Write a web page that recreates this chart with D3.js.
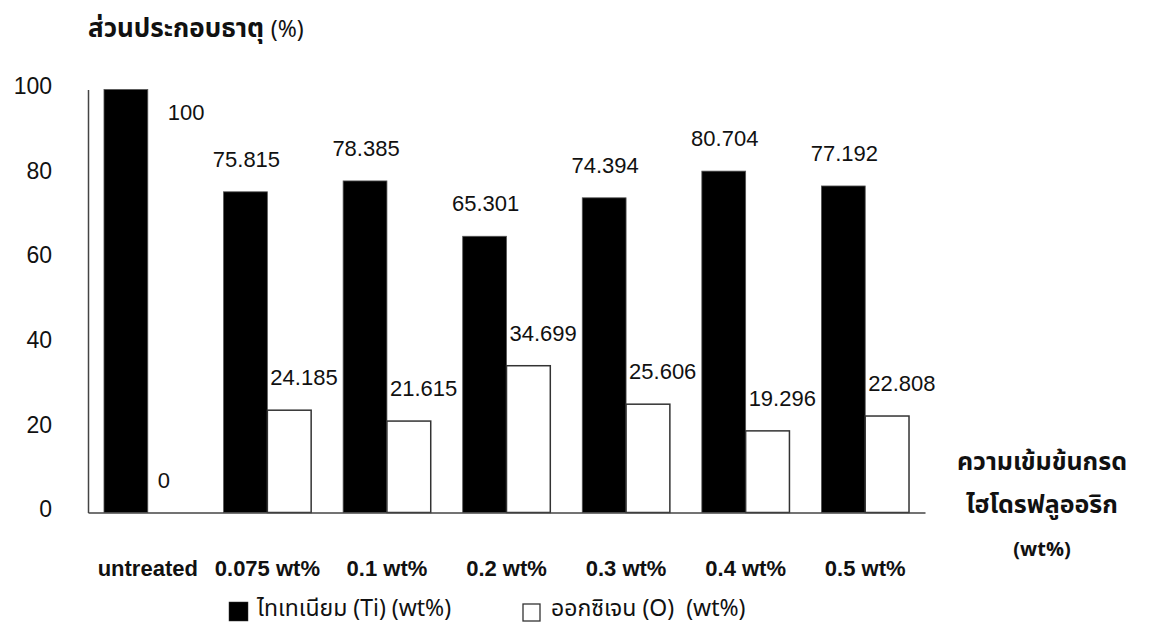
<!DOCTYPE html>
<html>
<head>
<meta charset="utf-8">
<script src="https://cdn.jsdelivr.net/npm/d3@7"></script>
<style>
  html, body { margin: 0; padding: 0; background: #fff; }
  svg { display: block; }
  text { font-family: "Liberation Sans", Arial, sans-serif; fill: #111; }
  .thai { font-family: Tahoma, "Noto Sans Thai", "Noto Sans", "DejaVu Sans", sans-serif; }
</style>
</head>
<body>
<svg id="chart" width="1151" height="625"></svg>
<script>
// Element composition by hydrofluoric acid concentration
const categories = ["untreated", "0.075 wt%", "0.1 wt%", "0.2 wt%", "0.3 wt%", "0.4 wt%", "0.5 wt%"];
const titanium = [100, 75.815, 78.385, 65.301, 74.394, 80.704, 77.192];
const oxygen = [0, 24.185, 21.615, 34.699, 25.606, 19.296, 22.808];
const yTicks = [0, 20, 40, 60, 80, 100];
const seriesNames = ["ไทเทเนียม (Ti) (wt%)", "ออกซิเจน (O)  (wt%)"];
const seriesKeys = ["Ti", "O"];

const svg = d3.select("#chart");
const plot = { left: 88, right: 925, top: 89.5, bottom: 512.5 };

const x = d3.scaleBand().domain(categories).range([plot.left, plot.right]).padding(0);
const xs = d3.scaleBand().domain(seriesKeys).range([0, x.bandwidth()])
  .paddingInner(0).paddingOuter(0.365);
const y = d3.scaleLinear().domain([0, 100]).range([plot.bottom, plot.top]);

const rows = categories.map((c, i) => ({ cat: c, Ti: titanium[i], O: oxygen[i] }));

// bars
const groups = svg.append("g").selectAll("g").data(rows).join("g")
  .attr("transform", d => `translate(${x(d.cat)},0)`);

groups.append("rect")
  .attr("x", xs("Ti")).attr("width", xs.bandwidth())
  .attr("y", d => y(d.Ti)).attr("height", d => y(0) - y(d.Ti))
  .attr("fill", "#000").attr("stroke", "#555").attr("stroke-width", 0.8);

groups.filter(d => d.O > 0).append("rect")
  .attr("x", xs("O")).attr("width", xs.bandwidth())
  .attr("y", d => y(d.O)).attr("height", d => y(0) - y(d.O))
  .attr("fill", "#fff").attr("stroke", "#333").attr("stroke-width", 1.5);

// value labels: above the bar, or beside it when there is no room above
const besideTop = d => y(d.Ti) - 33 < plot.top - 20;
groups.append("text")
  .attr("font-size", 22)
  .attr("text-anchor", d => besideTop(d) ? "start" : "middle")
  .attr("x", d => besideTop(d)
      ? xs("Ti") + xs.bandwidth() + 20
      : xs("Ti") + xs.bandwidth() / 2 + 1)
  .attr("y", d => besideTop(d) ? y(d.Ti) + 30 : y(d.Ti) - 25)
  .text(d => d.Ti);

groups.append("text")
  .attr("font-size", 22)
  .attr("text-anchor", "start")
  .attr("x", d => xs("O") + 3 + (d.O === 0 ? 7 : 0))
  .attr("y", d => y(d.O) - 25)
  .text(d => d.O);

// axes
const axisColor = "#444";
const yAxis = svg.append("g").attr("transform", `translate(${plot.left},0)`)
  .call(d3.axisLeft(y).tickValues(yTicks).tickSize(0).tickPadding(36));
yAxis.select(".domain").attr("stroke", axisColor).attr("stroke-width", 1.5);
yAxis.selectAll("text").attr("font-size", 23).attr("fill", "#111")
  .attr("dy", "0.18em").attr("font-family", "'Liberation Sans', Arial, sans-serif");

const xAxis = svg.append("g").attr("transform", `translate(0,${plot.bottom})`)
  .call(d3.axisBottom(x).tickSize(0).tickPadding(48));
xAxis.select(".domain").attr("stroke", axisColor).attr("stroke-width", 1.5);
xAxis.selectAll("text").attr("font-size", 22).attr("font-weight", "bold").attr("fill", "#111")
  .attr("font-family", "'Liberation Sans', Arial, sans-serif");

// y-axis title
const yTitle = svg.append("text").attr("class", "thai").attr("x", 88).attr("y", 37).attr("font-size", 26);
yTitle.append("tspan").attr("font-weight", "bold").text("ส่วนประกอบธาตุ ");
yTitle.append("tspan").attr("font-size", 23).text("(%)");

// x-axis title
const xTitle = [["ความเข้มข้นกรด", 470], ["ไฮโดรฟลูออริก", 513], ["(wt%)", 556]];
svg.append("g").selectAll("text").data(xTitle).join("text")
  .attr("class", "thai")
  .attr("x", 1042).attr("y", d => d[1])
  .attr("text-anchor", "middle").attr("font-weight", "bold")
  .attr("font-size", d => d[0] === "(wt%)" ? 20 : 25)
  .text(d => d[0]);

// legend
const legendX = [229, 523];
const legend = svg.append("g").selectAll("g").data(seriesNames).join("g")
  .attr("transform", (d, i) => `translate(${legendX[i]},602)`);
legend.append("rect")
  .attr("width", (d, i) => i === 0 ? 19 : 17).attr("height", (d, i) => i === 0 ? 19 : 17)
  .attr("y", (d, i) => i === 0 ? 0 : 2)
  .attr("fill", (d, i) => i === 0 ? "#000" : "#fff")
  .attr("stroke", "#333").attr("stroke-width", (d, i) => i === 0 ? 0.5 : 1.3);
legend.append("text").attr("class", "thai")
  .attr("x", 28).attr("y", 14).attr("font-size", 23)
  .attr("xml:space", "preserve").style("white-space", "pre")
  .text(d => d);
</script>
</body>
</html>
